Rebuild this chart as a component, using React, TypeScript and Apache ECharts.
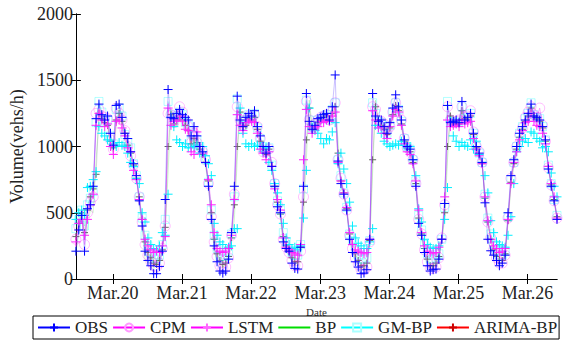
import React, { useEffect, useRef } from "react";
import * as echarts from "echarts";

const dayLabels = ["Mar.20", "Mar.21", "Mar.22", "Mar.23", "Mar.24", "Mar.25", "Mar.26"];
const dayTickPositions = [12.8, 36.8, 60.8, 84.8, 108.8, 132.8, 156.8];
const yMin = 0;
const yMax = 2000;
const yStep = 500;

// hourly traffic volume, Mar.20 00:00 .. Mar.26 23:00
const obs = [
  210, 370, 480, 210, 530, 560, 700, 1210, 1320, 1240, 1200, 1230, 1100, 1010, 1310, 1320, 1220, 1100, 1060, 960, 870, 780, 590, 400,
  210, 140, 100, 40, 40, 95, 210, 600, 1430, 1220, 1210, 1250, 1280, 1240, 1220, 1200, 1080, 1150, 1080, 1000, 960, 880, 700, 450,
  250, 130, 60, 45, 60, 150, 350, 700, 1380, 1200, 1150, 1220, 1250, 1230, 1270, 1150, 1080, 1000, 950, 1000, 850, 700, 545, 500,
  280, 230, 210, 120, 80, 75, 240, 700, 1400, 1190, 1130, 1160, 1210, 1220, 1240, 1250, 1200, 1300, 1540, 890, 720, 640, 520, 300,
  200, 130, 90, 40, 45, 70, 300, 1400, 1230, 1190, 1200, 1150, 1100, 1180, 1290, 1390, 1300, 1200, 1050, 1000, 980, 900, 700, 420,
  330, 200, 100, 60, 70, 75, 150, 300, 570, 1310, 1180, 1190, 1200, 1180, 1340, 1200, 1220, 1250, 1100, 1000, 950, 880, 575, 300,
  213, 180, 140, 100, 120, 180, 500, 780, 900, 1000, 1100, 1150, 1200, 1250, 1320, 1230, 1220, 1200, 1150, 1050, 830, 700, 590, 450,
];

const cpm = [
  300, 400, 470, 260, 500, 580, 620, 1250, 1280, 1230, 1220, 1210, 1050, 980, 1290, 1250, 1200, 1120, 1000, 930, 860, 760, 620, 430,
  260, 180, 130, 100, 90, 120, 230, 400, 1250, 1240, 1180, 1230, 1300, 1260, 1200, 1150, 1030, 1100, 1030, 980, 960, 900, 720, 470,
  280, 170, 100, 80, 90, 160, 330, 640, 1300, 1200, 1160, 1200, 1230, 1220, 1240, 1150, 1060, 960, 970, 980, 880, 720, 560, 490,
  300, 240, 200, 140, 100, 100, 210, 620, 1340, 1200, 1150, 1170, 1200, 1220, 1230, 1240, 1200, 1260, 1330, 900, 760, 640, 520, 330,
  230, 160, 110, 70, 70, 90, 280, 1300, 1280, 1200, 1190, 1170, 1120, 1150, 1260, 1330, 1260, 1200, 1060, 990, 970, 900, 720, 450,
  340, 220, 130, 80, 80, 90, 160, 310, 560, 1300, 1200, 1180, 1190, 1200, 1300, 1220, 1230, 1270, 1110, 1000, 960, 880, 620, 430,
  310, 220, 160, 120, 120, 180, 460, 760, 880, 1000, 1090, 1140, 1220, 1260, 1300, 1240, 1220, 1290, 1160, 1040, 840, 710, 590, 460,
];

const lstm = [
  280, 420, 450, 330, 450, 560, 640, 1160, 1250, 1200, 1150, 1170, 1000, 940, 1190, 1200, 1140, 1080, 990, 960, 820, 750, 600, 450,
  300, 250, 220, 200, 210, 200, 250, 320, 1290, 1160, 1190, 1200, 1230, 1190, 1130, 1120, 960, 940, 1110, 1000, 950, 880, 750, 560,
  350, 230, 210, 200, 210, 230, 330, 600, 1240, 1160, 1120, 1180, 1200, 1190, 1180, 1100, 980, 950, 900, 960, 850, 680, 600, 520,
  310, 240, 220, 200, 190, 180, 260, 900, 1280, 1150, 1100, 1140, 1150, 1190, 1180, 1200, 1190, 1230, 1260, 880, 740, 650, 540, 350,
  260, 220, 210, 200, 190, 200, 300, 1270, 1200, 1140, 1150, 1100, 1060, 1150, 1230, 1280, 1260, 1160, 1020, 960, 940, 870, 740, 520,
  350, 250, 210, 200, 190, 200, 240, 300, 620, 1200, 1150, 1160, 1170, 1150, 1200, 1170, 1180, 1190, 1060, 980, 930, 870, 620, 440,
  300, 250, 230, 200, 210, 230, 450, 720, 880, 960, 1050, 1120, 1180, 1190, 1250, 1190, 1160, 1150, 1100, 1020, 850, 720, 620, 460,
];

const bp = [
  200, 350, 520, 300, 380, 520, 500, 900, 1200, 1250, 1180, 1170, 1000, 960, 1150, 1280, 1200, 1050, 970, 900, 850, 790, 560, 420,
  150, 120, 130, 80, 110, 170, 240, 360, 800, 1280, 1200, 1150, 1240, 1200, 1160, 1100, 1000, 1030, 1000, 960, 900, 850, 720, 460,
  210, 140, 120, 90, 110, 170, 270, 450, 900, 1300, 1120, 1130, 1200, 1180, 1210, 1120, 1020, 980, 920, 960, 830, 700, 560, 450,
  260, 200, 180, 130, 110, 120, 220, 450, 900, 1350, 1150, 1120, 1150, 1200, 1220, 1220, 1180, 1220, 1280, 1050, 700, 630, 510, 320,
  230, 150, 110, 80, 90, 110, 280, 800, 1350, 1200, 1150, 1120, 1080, 1120, 1230, 1300, 1280, 1150, 1030, 980, 960, 880, 700, 430,
  300, 190, 120, 80, 90, 110, 150, 280, 450, 900, 1250, 1150, 1160, 1160, 1250, 1200, 1180, 1220, 1090, 990, 930, 870, 600, 420,
  280, 200, 150, 120, 130, 170, 420, 700, 850, 960, 1050, 1120, 1170, 1220, 1280, 1220, 1200, 1180, 1130, 1040, 840, 700, 590, 460,
];

const gmbp = [
  380, 450, 520, 400, 560, 610, 660, 1180, 1340, 1260, 1190, 1200, 1080, 1020, 1280, 1290, 1230, 1090, 1030, 990, 870, 780, 620, 460,
  330, 250, 200, 160, 150, 180, 260, 450, 1340, 1240, 1190, 1230, 1260, 1240, 1180, 1160, 1040, 1080, 1050, 1000, 970, 900, 730, 520,
  330, 230, 170, 150, 170, 210, 340, 620, 1360, 1220, 1160, 1200, 1240, 1230, 1250, 1140, 1060, 1000, 960, 990, 860, 720, 590, 520,
  350, 280, 230, 200, 180, 180, 260, 680, 1350, 1200, 1140, 1150, 1200, 1210, 1230, 1240, 1200, 1280, 1330, 900, 780, 650, 540, 340,
  290, 220, 180, 150, 150, 160, 290, 1330, 1250, 1190, 1180, 1150, 1100, 1160, 1260, 1330, 1280, 1190, 1060, 1000, 980, 900, 740, 480,
  370, 260, 190, 150, 150, 160, 190, 300, 540, 1340, 1190, 1180, 1180, 1190, 1300, 1210, 1220, 1250, 1100, 1000, 950, 880, 640, 460,
  340, 260, 210, 180, 180, 210, 470, 750, 880, 1000, 1100, 1150, 1210, 1250, 1330, 1240, 1220, 1210, 1150, 1050, 860, 720, 600, 480,
];

// cyan "+" markers of the GM-BP curve
const gmbpMarks = [
  450, 500, 520, 480, 690, 700, 750, 810, 1150, 1100, 1080, 1050, 1040, 1020, 1000, 1030, 1010, 1000, 950, 880, 850, 760, 720, 500,
  430, 310, 260, 230, 220, 250, 350, 330, 640, 1220, 1150, 1050, 1030, 1000, 1020, 990, 990, 1000, 1010, 950, 1000, 930, 870, 780,
  420, 330, 280, 260, 230, 240, 250, 380, 380, 1290, 1100, 1020, 1000, 1020, 1000, 1010, 1000, 960, 990, 880, 820, 720, 650, 560,
  420, 310, 260, 230, 240, 220, 250, 460, 820, 1290, 1140, 1120, 1100, 1060, 1020, 1060, 1050, 1110, 1180, 870, 950, 830, 720, 580,
  400, 310, 270, 250, 230, 230, 280, 380, 1160, 1140, 1100, 1040, 1020, 1000, 1010, 1020, 1010, 1040, 1010, 990, 1000, 900, 780, 530,
  430, 300, 260, 240, 230, 230, 250, 300, 450, 690, 1190, 1080, 1040, 1000, 1030, 1010, 1000, 1050, 980, 1040, 940, 880, 780, 650,
  440, 350, 280, 260, 250, 240, 330, 470, 720, 960, 1000, 1040, 1060, 1030, 1110, 1100, 1060, 1040, 990, 1000, 960, 800, 700, 620,
];

const arimabp = [
  320, 420, 500, 350, 520, 620, 680, 790, 1250, 1210, 1180, 1160, 1040, 990, 1200, 1250, 1190, 1100, 1010, 950, 860, 760, 620, 450,
  280, 200, 160, 120, 110, 140, 220, 390, 1000, 1240, 1170, 1200, 1220, 1200, 1160, 1120, 1020, 1060, 1030, 980, 940, 880, 740, 500,
  300, 190, 140, 110, 120, 170, 310, 560, 1000, 1260, 1150, 1160, 1210, 1200, 1220, 1130, 1040, 980, 940, 980, 850, 700, 580, 490,
  320, 250, 210, 160, 130, 130, 240, 580, 1050, 1290, 1150, 1130, 1180, 1200, 1220, 1230, 1190, 1250, 1300, 950, 740, 650, 530, 340,
  260, 190, 140, 100, 100, 120, 290, 900, 1300, 1200, 1160, 1130, 1090, 1140, 1240, 1310, 1270, 1170, 1040, 990, 960, 880, 720, 460,
  340, 230, 150, 100, 100, 120, 170, 300, 500, 1000, 1230, 1170, 1170, 1170, 1270, 1210, 1200, 1230, 1090, 990, 940, 870, 610, 430,
  300, 220, 170, 140, 140, 190, 440, 730, 870, 980, 1070, 1130, 1190, 1230, 1290, 1230, 1210, 1190, 1140, 1040, 850, 710, 600, 470,
];

const FONT = "Liberation Serif";
const PLUS = "path://M5,0L5,10M0,5L10,5";

export default function App() {
  const ref = useRef<HTMLDivElement>(null);
  useEffect(() => {
    const chart = echarts.init(ref.current!, null, { renderer: "svg" });
    const pts = (arr: number[]) => arr.map((v, i) => [i, v]);
    const xMax = obs.length - 1;
    const labelOf = (v: number) => {
      const k = dayTickPositions.findIndex((p) => Math.abs(p - v) < 0.01);
      return k >= 0 ? dayLabels[k] : "";
    };
    const plusSeries = (name: string, data: number[], color: string, size: number, lineColor: string, lineOpacity: number, z: number) => ({
      name,
      type: "line",
      data: pts(data),
      symbol: PLUS,
      symbolSize: size,
      showAllSymbol: true,
      z,
      lineStyle: { color: lineColor, width: 1, opacity: lineOpacity },
      itemStyle: { color: "none", borderColor: color, borderWidth: 1 },
      emphasis: { disabled: true },
    });
    chart.setOption({
      animation: false,
      grid: { left: 64, right: 6, top: 14, bottom: 66 },
      xAxis: [
        {
          type: "value",
          min: 0,
          max: xMax,
          name: "Date",
          nameLocation: "middle",
          nameGap: 19,
          nameTextStyle: { fontFamily: FONT, fontSize: 11, color: "#333" },
          axisLine: { show: true, lineStyle: { color: "#000", width: 1 } },
          axisTick: { show: true, inside: true, length: 5, customValues: dayTickPositions, lineStyle: { color: "#000" } },
          axisLabel: { customValues: dayTickPositions, formatter: labelOf, fontFamily: FONT, fontSize: 18, color: "#222", margin: 5 },
          splitLine: { show: false },
        },
        {
          type: "value",
          position: "top",
          min: 0,
          max: xMax,
          axisLine: { show: true, lineStyle: { color: "#000", width: 1 } },
          axisTick: { show: true, inside: true, length: 5, customValues: dayTickPositions, lineStyle: { color: "#000" } },
          axisLabel: { show: false },
          splitLine: { show: false },
        },
      ],
      yAxis: [
        {
          type: "value",
          min: yMin,
          max: yMax,
          interval: yStep,
          name: "Volume(vehs/h)",
          nameLocation: "middle",
          nameGap: 38,
          nameTextStyle: { fontFamily: FONT, fontSize: 18, color: "#222" },
          axisLine: { show: true, lineStyle: { color: "#000", width: 1 } },
          axisTick: { show: true, inside: true, length: 5, lineStyle: { color: "#000" } },
          axisLabel: { fontFamily: FONT, fontSize: 18, color: "#222", margin: 3, formatter: (v: number) => String(v) },
          splitLine: { show: false },
        },
        {
          type: "value",
          position: "right",
          min: yMin,
          max: yMax,
          interval: yStep,
          axisLine: { show: true, lineStyle: { color: "#000", width: 1 } },
          axisTick: { show: true, inside: true, length: 5, lineStyle: { color: "#000" } },
          axisLabel: { show: false },
          splitLine: { show: false },
        },
      ],
      legend: {
        left: 33,
        top: 316,
        orient: "horizontal",
        itemWidth: 32,
        itemHeight: 10,
        itemGap: 4,
        padding: [3, 2, 3, 4],
        borderColor: "#000",
        borderWidth: 1,
        borderRadius: 0,
        textStyle: { fontFamily: FONT, fontSize: 17, color: "#222" },
        data: [
          { name: "OBS", lineStyle: { color: "#0000ff", opacity: 1 }, itemStyle: { borderColor: "#0000ff", opacity: 1 } },
          { name: "CPM", lineStyle: { color: "#ff00ff", opacity: 1 }, itemStyle: { borderColor: "#ff99ff", opacity: 1 } },
          { name: "LSTM", lineStyle: { color: "#ff00ff", opacity: 1 }, itemStyle: { borderColor: "#ff66ff", opacity: 1 } },
          { name: "BP", lineStyle: { color: "#00dd00", opacity: 1 }, itemStyle: { opacity: 0 } },
          { name: "GM-BP", lineStyle: { color: "#00ffff", opacity: 1 }, itemStyle: { borderColor: "#aaffff", opacity: 1 } },
          { name: "ARIMA-BP", lineStyle: { color: "#ff0000", opacity: 1 }, itemStyle: { borderColor: "#cc0000", opacity: 1 } },
        ],
      },
      series: [
        {
          name: "BP",
          type: "line",
          data: pts(bp),
          symbol: "none",
          z: 1,
          lineStyle: { color: "#33dd33", width: 1, opacity: 0.22 },
          emphasis: { disabled: true },
        },
        plusSeries("ARIMA-BP", arimabp, "#666666", 7, "#888888", 0.3, 2),
        {
          name: "GM-BP",
          type: "line",
          data: pts(gmbp),
          symbol: "rect",
          symbolSize: 8,
          showAllSymbol: true,
          z: 3,
          lineStyle: { color: "#00dddd", width: 1, opacity: 0.25 },
          itemStyle: { color: "none", borderColor: "#00ffff", borderWidth: 1, opacity: 0.3 },
          emphasis: { disabled: true },
        },
        {
          name: "CPM",
          type: "line",
          data: pts(cpm),
          symbol: "circle",
          symbolSize: 10,
          showAllSymbol: true,
          z: 4,
          lineStyle: { color: "#ff00ff", width: 1, opacity: 0.3 },
          itemStyle: { color: "none", borderColor: "#ff00ff", borderWidth: 1, opacity: 0.25 },
          emphasis: { disabled: true },
        },
        plusSeries("GM-BP marks", gmbpMarks, "#00eeff", 9, "#00ffff", 0.0, 5),
        plusSeries("LSTM", lstm, "#ff22ff", 9, "#ff00ff", 0.3, 6),
        plusSeries("OBS", obs, "#0000ff", 9, "#6a4cff", 0.35, 7),
      ],
    });
    return () => chart.dispose();
  }, []);
  return <div ref={ref} style={{ position: "absolute", left: 0, top: 0, width: 563, height: 345 }} />;
}
